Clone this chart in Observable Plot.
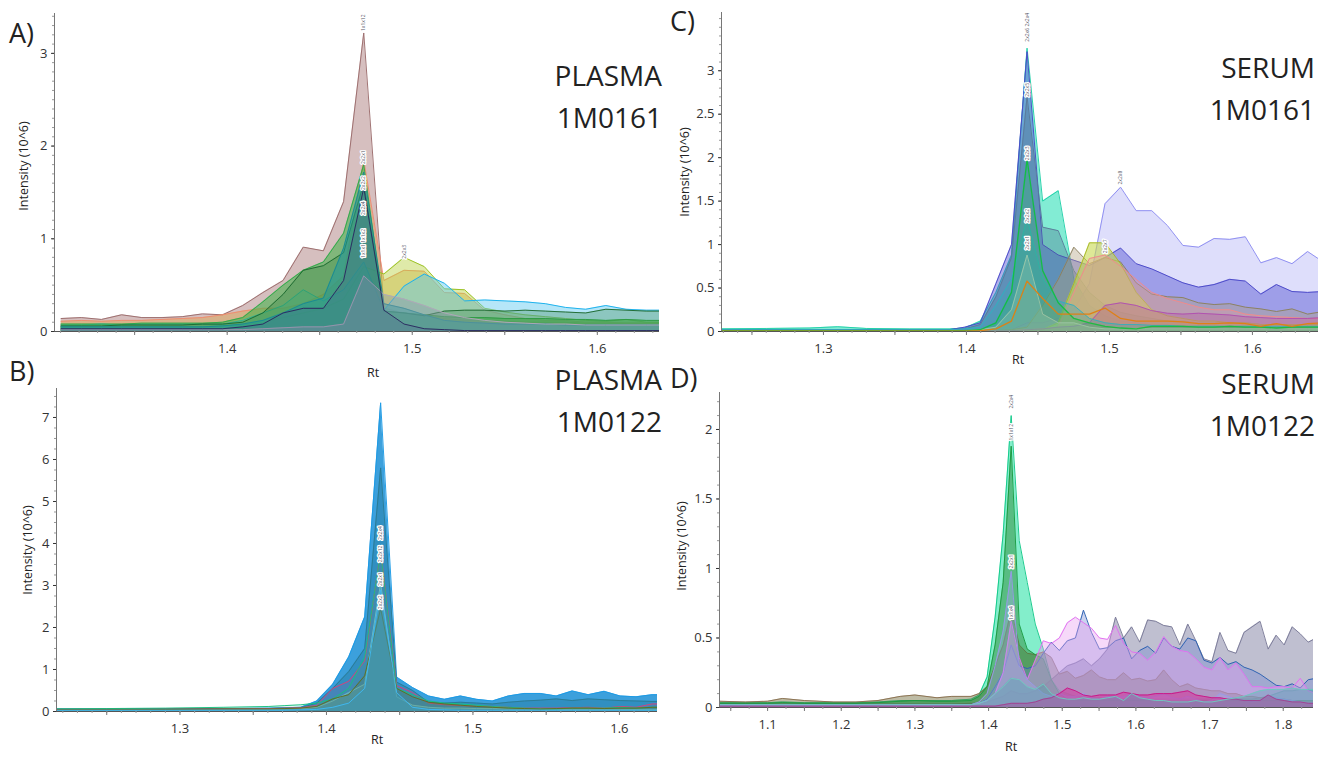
<!DOCTYPE html>
<html><head><meta charset="utf-8">
<script src="https://cdn.jsdelivr.net/npm/d3@7"></script>
<script src="https://cdn.jsdelivr.net/npm/@observablehq/plot@0.6"></script>
<style>
body{margin:0;background:#fff;}
#wrap{position:relative;width:1319px;height:757px;overflow:hidden;font-family:"Open Sans",sans-serif;background:#fff;}
.pnl{position:absolute;}
.letter{position:absolute;font-size:27px;line-height:30px;color:#222;}
.name{position:absolute;font-size:28px;line-height:42px;color:#222;text-align:right;}
.ylab{position:absolute;font-size:12.5px;color:#222;transform:translate(-50%,-50%) rotate(-90deg);white-space:nowrap;}
.xlab{position:absolute;font-size:12.5px;line-height:14px;color:#222;transform:translate(-50%,-50%);}
</style></head>
<body><div id="wrap"></div>
<script>
// ---------- Panel A : PLASMA 1M0161 ----------
const rtA = [1.3103,1.3212,1.3321,1.3430,1.3539,1.3648,1.3757,1.3866,1.3975,1.4084,
  1.4193,1.4302,1.4411,1.4520,1.4629,1.4738,1.4847,1.4956,1.5065,1.5174,
  1.5283,1.5392,1.5501,1.5610,1.5719,1.5828,1.5937,1.6046,1.6155,1.6264,1.6373];
const A_mauve = [0.14,0.15,0.13,0.18,0.15,0.15,0.16,0.19,0.18,0.28, 0.42,0.55,0.91,0.87,1.40,3.22,0.25,0.20,0.17,0.14, 0.12,0.12,0.11,0.10,0.10,0.10,0.09,0.09,0.09,0.09,0.09];
const A_salmon = [0.11,0.12,0.11,0.12,0.12,0.13,0.14,0.15,0.18,0.22, 0.25,0.25,0.30,0.40,0.60,1.85,0.55,0.66,0.65,0.42, 0.41,0.23,0.18,0.14,0.12,0.12,0.10,0.10,0.09,0.09,0.09];
const A_ygreen = [0.05,0.05,0.05,0.05,0.05,0.05,0.05,0.05,0.06,0.07, 0.10,0.15,0.20,0.25,0.35,0.70,0.62,0.80,0.70,0.46, 0.45,0.25,0.21,0.18,0.16,0.14,0.12,0.11,0.13,0.10,0.10];
const A_cyan = [0.07,0.07,0.08,0.07,0.08,0.08,0.08,0.08,0.08,0.12, 0.20,0.28,0.45,0.33,0.45,0.75,0.23,0.49,0.62,0.52, 0.33,0.34,0.33,0.32,0.30,0.26,0.24,0.28,0.24,0.23,0.23];
const A_green = [0.08,0.08,0.08,0.08,0.09,0.09,0.09,0.09,0.10,0.15, 0.32,0.50,0.66,0.75,1.06,1.80,0.22,0.20,0.18,0.16, 0.15,0.15,0.14,0.14,0.14,0.13,0.13,0.12,0.13,0.12,0.12];
const A_dkgreen = [0.06,0.06,0.06,0.07,0.07,0.07,0.07,0.08,0.08,0.10, 0.20,0.40,0.66,0.71,0.85,1.60,0.22,0.20,0.17,0.22, 0.23,0.23,0.22,0.23,0.22,0.21,0.20,0.24,0.23,0.22,0.22];
const A_teal = [0.05,0.05,0.05,0.05,0.05,0.05,0.05,0.05,0.06,0.08, 0.12,0.20,0.30,0.36,0.90,1.72,0.30,0.25,0.18,0.12, 0.10,0.09,0.08,0.08,0.08,0.07,0.07,0.07,0.07,0.07,0.07];
const A_gray = [0.02,0.02,0.02,0.02,0.02,0.02,0.02,0.02,0.02,0.02, 0.03,0.04,0.05,0.05,0.08,0.60,0.40,0.35,0.28,0.20, 0.15,0.12,0.10,0.09,0.08,0.08,0.07,0.07,0.07,0.07,0.07];
const A_navy = [0.03,0.03,0.03,0.03,0.03,0.03,0.03,0.03,0.03,0.05, 0.08,0.20,0.25,0.25,0.55,1.55,0.23,0.08,0.03,0.02, 0.01,0.01,0.01,0.01,0.01,0.01,0.01,0.01,0.01,0.01,0.01];
const xTicksA = [1.4, 1.5, 1.6];
const yTicksA = [0, 1, 2, 3];
const tagsA = [
  {rt:1.4738, v:3.33, t:"1x1x12"}, {rt:1.4738, v:1.88, t:"2x2x1"}, {rt:1.4738, v:1.60, t:"2x2x2"},
  {rt:1.4738, v:1.33, t:"2x2x4"}, {rt:1.4738, v:0.95, t:"1x1x1 1x1x2"}, {rt:1.4956, v:0.86, t:"2x2x3"}];

// ---------- Panel B : PLASMA 1M0122 ----------
const rtB = [1.2081,1.25,1.29,1.33,1.3607,1.3716,1.3825,1.3934,1.4043,1.4152,
  1.4261,1.4370,1.4479,1.4588,1.4697,1.4806,1.4915,1.5024,1.5133,1.5242,
  1.5351,1.5460,1.5569,1.5678,1.5787,1.5896,1.6005,1.6114,1.6223,1.6332];
const B_blue = [0.06,0.06,0.07,0.07,0.08,0.09,0.10,0.25,0.65,1.30, 2.25,7.35,0.82,0.57,0.37,0.29,0.37,0.29,0.25,0.37, 0.43,0.43,0.37,0.49,0.40,0.48,0.37,0.35,0.40,0.40];
const B_dkteal = [0.05,0.05,0.06,0.06,0.07,0.08,0.09,0.20,0.55,0.95, 1.50,5.80,0.70,0.50,0.22,0.20,0.22,0.20,0.18,0.22, 0.25,0.27,0.30,0.26,0.30,0.28,0.26,0.25,0.24,0.24];
const B_ltteal = [0.04,0.04,0.04,0.05,0.05,0.06,0.07,0.10,0.25,0.45, 0.65,3.05,0.35,0.15,0.10,0.08,0.08,0.07,0.07,0.06, 0.06,0.06,0.05,0.05,0.05,0.05,0.05,0.05,0.05,0.05];
const B_pink = [0.05,0.05,0.06,0.06,0.07,0.08,0.09,0.15,0.55,0.72, 1.20,3.85,0.62,0.45,0.20,0.16,0.14,0.13,0.12,0.10, 0.08,0.08,0.08,0.09,0.10,0.08,0.12,0.10,0.18,0.18];
const B_green = [0.06,0.07,0.08,0.10,0.12,0.14,0.16,0.20,0.30,0.55, 1.30,3.80,0.55,0.40,0.25,0.20,0.18,0.15,0.12,0.10, 0.08,0.06,0.06,0.08,0.08,0.08,0.10,0.08,0.10,0.10];
const B_olive = [0.05,0.05,0.05,0.06,0.06,0.07,0.08,0.12,0.30,0.40, 0.85,2.45,0.55,0.35,0.22,0.18,0.15,0.12,0.10,0.08, 0.07,0.06,0.07,0.08,0.08,0.07,0.08,0.08,0.10,0.10];
const B_cyan = [0.03,0.03,0.03,0.03,0.03,0.03,0.04,0.05,0.10,0.20, 0.55,2.90,0.45,0.10,0.05,0.04,0.03,0.03,0.03,0.03, 0.03,0.03,0.03,0.03,0.03,0.03,0.03,0.03,0.03,0.03];
const xTicksB = [1.3, 1.4, 1.5, 1.6];
const yTicksB = [0, 1, 2, 3, 4, 5, 6, 7];
const tagsB = [{rt:1.437, v:4.25, t:"2x2x4"}, {rt:1.437, v:3.75, t:"2x2x12"}, {rt:1.437, v:3.15, t:"2x2x1"}, {rt:1.437, v:2.6, t:"2x2x2"}];

// ---------- Panel C : SERUM 1M0161 ----------
const rtC = [1.2244,1.26,1.29,1.31,1.33,1.36,
  1.3879,1.3988,1.4097,1.4206,1.4315,1.4424,1.4533,1.4642,1.4751,1.4860,
  1.4969,1.5078,1.5187,1.5296,1.5405,1.5514,1.5623,1.5732,1.5841,1.5950,
  1.6059,1.6168,1.6277,1.6386,1.6495];
const C_turq = [0.03,0.035,0.04,0.055,0.035,0.03, 0.03,0.04,0.12,0.45,0.88,3.26,1.50,1.62,0.60,0.30, 0.18,0.12,0.10,0.08,0.08,0.07,0.07,0.06,0.06,0.06, 0.05,0.05,0.05,0.05,0.05];
const C_lav = [0.01,0.01,0.01,0.01,0.01,0.01, 0.01,0.01,0.01,0.01,0.02,0.10,0.10,0.15,0.25,0.55, 1.47,1.66,1.39,1.39,1.22,0.99,0.97,1.07,1.06,1.09, 0.79,0.85,0.78,0.92,0.80];
const C_violet = [0.02,0.02,0.02,0.02,0.02,0.02, 0.02,0.05,0.10,0.55,1.00,3.22,1.00,0.88,0.82,0.76, 0.85,0.96,0.78,0.72,0.64,0.56,0.51,0.54,0.60,0.58, 0.43,0.54,0.46,0.45,0.46];
const C_slate = [0.02,0.02,0.02,0.02,0.02,0.02, 0.02,0.03,0.08,0.40,0.85,2.70,1.20,1.16,0.70,0.45, 0.30,0.22,0.18,0.15,0.12,0.12,0.10,0.10,0.10,0.10, 0.08,0.08,0.08,0.08,0.08];
const C_olgray = [0.01,0.01,0.01,0.01,0.01,0.01, 0.01,0.01,0.01,0.01,0.02,0.05,0.30,0.60,0.97,0.78, 0.85,0.80,0.56,0.43,0.40,0.39,0.33,0.31,0.32,0.28, 0.26,0.23,0.26,0.20,0.23];
const C_yellow = [0.01,0.01,0.01,0.01,0.01,0.01, 0.01,0.01,0.01,0.01,0.01,0.02,0.02,0.10,0.55,1.02, 1.02,0.78,0.45,0.25,0.18,0.15,0.12,0.12,0.10,0.10, 0.08,0.08,0.08,0.08,0.08];
const C_salmon = [0.01,0.01,0.01,0.01,0.01,0.01, 0.01,0.01,0.01,0.01,0.01,0.02,0.03,0.05,0.45,0.84, 0.88,0.75,0.60,0.45,0.38,0.33,0.28,0.25,0.25,0.20, 0.18,0.17,0.16,0.15,0.15];
const C_magenta = [0.01,0.01,0.01,0.01,0.01,0.01, 0.01,0.01,0.01,0.01,0.01,0.02,0.03,0.05,0.06,0.10, 0.30,0.33,0.30,0.24,0.21,0.20,0.21,0.20,0.19,0.17, 0.16,0.15,0.15,0.15,0.16];
const C_teal = [0.02,0.02,0.02,0.02,0.02,0.02, 0.02,0.03,0.05,0.30,0.60,1.30,0.60,0.35,0.30,0.15, 0.10,0.08,0.08,0.07,0.07,0.06,0.06,0.06,0.06,0.06, 0.06,0.06,0.06,0.06,0.06];
const C_lgray = [0.01,0.01,0.01,0.01,0.01,0.01, 0.01,0.01,0.02,0.05,0.25,0.88,0.20,0.10,0.10,0.05, 0.03,0.03,0.03,0.03,0.03,0.03,0.03,0.03,0.03,0.03, 0.03,0.03,0.03,0.03,0.03];
const C_green = [0.01,0.01,0.01,0.01,0.01,0.01, 0.01,0.01,0.02,0.10,0.45,1.98,0.70,0.33,0.15,0.10, 0.06,0.04,0.03,0.06,0.06,0.06,0.05,0.05,0.06,0.05, 0.05,0.04,0.05,0.05,0.05];
const C_orange = [0.005,0.005,0.005,0.005,0.005,0.005, 0.005,0.005,0.01,0.03,0.12,0.58,0.38,0.20,0.20,0.20, 0.27,0.15,0.12,0.12,0.12,0.11,0.09,0.09,0.10,0.09, 0.06,0.09,0.06,0.09,0.10];
const xTicksC = [1.3, 1.4, 1.5, 1.6];
const yTicksC = [0, 0.5, 1, 1.5, 2, 2.5, 3];
const tagsC = [{rt:1.4424, v:3.5, t:"2x2x6 2x2x4"}, {rt:1.4424, v:2.78, t:"2x2x5"}, {rt:1.4424, v:2.05, t:"2x2x3"},
  {rt:1.4424, v:1.33, t:"2x2x2"}, {rt:1.4424, v:1.02, t:"2x2x1"}, {rt:1.5078, v:1.77, t:"2x2x8"}, {rt:1.4969, v:0.98, t:"2x2x7"}];

// ---------- Panel D : SERUM 1M0122 ----------
const rtD = [1.0347,1.07,1.10,1.12,1.15,1.19,1.22,1.25,1.28,1.30,1.33,1.35,
  1.3762,1.3871,1.3980,1.4089,1.4198,1.4307,1.4416,1.4525,1.4634,1.4743,
  1.4852,1.4961,1.5070,1.5179,1.5288,1.5397,1.5506,1.5615,1.5724,1.5833,
  1.5942,1.6051,1.6160,1.6269,1.6378,1.6487,1.6596,1.6705,1.6814,1.6923,
  1.7032,1.7141,1.7250,1.7359,1.7468,1.7577,1.7686,1.7795,1.7904,1.8013,
  1.8122,1.8231,1.8340,1.8449];
const D_green = [0.035,0.035,0.035,0.04,0.035,0.035,0.035,0.04,0.05,0.05,0.05,0.05,
  0.06,0.09,0.22,0.65,1.25,2.10,1.20,0.90,0.60,0.42,
  0.20,0.12,0.10,0.08,0.08,0.07,0.07,0.06,0.06,0.06,
  0.06,0.06,0.06,0.06,0.06,0.06,0.06,0.06,0.06,0.06,
  0.06,0.06,0.06,0.06,0.06,0.06,0.07,0.08,0.10,0.12,
  0.12,0.13,0.13,0.13];
const D_gray = [0.025,0.025,0.025,0.025,0.025,0.025,0.025,0.025,0.025,0.025,0.025,0.025,
  0.03,0.03,0.04,0.06,0.08,0.12,0.10,0.10,0.12,0.15,
  0.20,0.25,0.30,0.32,0.35,0.30,0.35,0.42,0.65,0.50,
  0.58,0.47,0.63,0.62,0.59,0.58,0.45,0.60,0.48,0.35,
  0.33,0.54,0.41,0.39,0.54,0.58,0.62,0.42,0.52,0.45,
  0.58,0.53,0.47,0.50];
const D_olive = [0.045,0.04,0.045,0.065,0.05,0.04,0.04,0.05,0.08,0.09,0.07,0.08,
  0.08,0.10,0.15,0.30,0.45,0.70,0.45,0.39,0.38,0.40,
  0.36,0.24,0.26,0.21,0.23,0.27,0.22,0.20,0.20,0.25,
  0.20,0.21,0.19,0.20,0.27,0.20,0.15,0.17,0.14,0.13,
  0.12,0.12,0.10,0.10,0.08,0.08,0.07,0.07,0.06,0.06,
  0.05,0.05,0.05,0.05];
const D_dkgreen = [0.03,0.03,0.03,0.035,0.03,0.03,0.03,0.035,0.045,0.05,0.045,0.045,
  0.05,0.08,0.15,0.45,0.90,1.88,0.60,0.42,0.38,0.35,
  0.20,0.10,0.06,0.05,0.05,0.05,0.05,0.05,0.05,0.05,
  0.05,0.05,0.05,0.05,0.05,0.05,0.05,0.05,0.05,0.05,
  0.05,0.05,0.05,0.05,0.05,0.05,0.05,0.05,0.05,0.05,
  0.05,0.05,0.05,0.05];
const D_blue = [0.02,0.02,0.02,0.02,0.02,0.02,0.02,0.02,0.02,0.02,0.02,0.02,
  0.02,0.03,0.06,0.15,0.25,0.45,0.30,0.28,0.30,0.39,
  0.47,0.41,0.48,0.50,0.70,0.54,0.42,0.43,0.48,0.50,
  0.35,0.41,0.44,0.39,0.50,0.44,0.42,0.50,0.48,0.34,
  0.32,0.36,0.31,0.33,0.29,0.27,0.24,0.20,0.16,0.15,
  0.17,0.14,0.20,0.21];
const D_pink = [0.02,0.02,0.02,0.02,0.02,0.02,0.02,0.02,0.02,0.02,0.02,0.02,
  0.02,0.03,0.05,0.10,0.25,0.62,0.36,0.20,0.34,0.48,
  0.46,0.50,0.61,0.65,0.61,0.57,0.50,0.49,0.59,0.46,
  0.40,0.39,0.34,0.40,0.51,0.44,0.41,0.40,0.35,0.29,
  0.27,0.36,0.27,0.32,0.24,0.15,0.15,0.14,0.15,0.15,
  0.14,0.21,0.12,0.10];
const D_lav = [0.02,0.02,0.02,0.02,0.02,0.02,0.02,0.02,0.02,0.02,0.02,0.02,
  0.02,0.04,0.10,0.30,0.55,0.98,0.30,0.20,0.15,0.10,
  0.08,0.10,0.08,0.08,0.10,0.07,0.06,0.08,0.07,0.08,
  0.10,0.08,0.07,0.08,0.10,0.07,0.06,0.08,0.06,0.04,
  0.05,0.10,0.08,0.06,0.05,0.04,0.05,0.08,0.07,0.06,
  0.05,0.04,0.03,0.03];
const D_magenta = [0.01,0.01,0.01,0.01,0.01,0.01,0.01,0.01,0.01,0.01,0.01,0.01,
  0.01,0.01,0.01,0.01,0.02,0.03,0.03,0.03,0.04,0.06,
  0.07,0.10,0.14,0.12,0.09,0.08,0.09,0.09,0.09,0.11,
  0.10,0.09,0.09,0.10,0.10,0.10,0.11,0.12,0.09,0.08,
  0.07,0.07,0.06,0.06,0.05,0.05,0.05,0.09,0.06,0.05,
  0.04,0.04,0.03,0.03];
const D_teal = [0.02,0.02,0.02,0.02,0.02,0.02,0.02,0.02,0.02,0.02,0.02,0.02,
  0.02,0.03,0.05,0.10,0.15,0.21,0.20,0.15,0.13,0.17,
  0.10,0.07,0.06,0.06,0.07,0.06,0.06,0.07,0.08,0.05,
  0.10,0.07,0.06,0.05,0.05,0.04,0.04,0.04,0.05,0.04,
  0.04,0.05,0.06,0.07,0.08,0.10,0.12,0.13,0.13,0.13,
  0.14,0.13,0.13,0.13];
const xTicksD = [1.1, 1.2, 1.3, 1.4, 1.5, 1.6, 1.7, 1.8];
const yTicksD = [0, 0.5, 1, 1.5, 2];
const tagsD = [{rt:1.4307, v:2.2, t:"2x2x4"}, {rt:1.4307, v:1.98, t:"1x1x12"}, {rt:1.4307, v:1.05, t:"2x2x1"}, {rt:1.4307, v:0.68, t:"1x1x4"}];

// ---------- drawing ----------
const stepTicks = (a, b, s) => d3.range(Math.ceil(a / s - 1e-9), Math.floor(b / s + 1e-9) + 1).map(i => +(i * s).toFixed(4));
const fmt = d3.format("~g");

function panel(o) {
  const marks = [];
  for (const s of o.series) {
    const rows = o.rt.map((x, i) => ({x, v: s.v[i]}));
    marks.push(Plot.areaY(rows, {x: "x", y: "v", fill: s.fill, fillOpacity: s.fo, clip: true}));
    marks.push(Plot.lineY(rows, {x: "x", y: "v", stroke: s.stroke, strokeWidth: s.sw || 1, strokeOpacity: 0.95, clip: true}));
  }
  marks.push(Plot.text(o.tags, {x: "rt", y: "v", text: "t", rotate: -90, fontSize: 5, fill: "#556", stroke: "white", strokeWidth: 2.5, clip: true}));
  marks.push(Plot.ruleX([o.xDomain[0]], {stroke: "#777", strokeWidth: 1}));
  marks.push(Plot.ruleY([0], {stroke: "#555", strokeWidth: 1}));
  marks.push(Plot.axisX(stepTicks(o.xDomain[0], o.xDomain[1], o.xMinor), {tickSize: 2, tickFormat: () => "", label: null, color: "#999"}));
  marks.push(Plot.axisX(stepTicks(o.xDomain[0], o.xDomain[1], 0.05), {tickSize: 4, tickFormat: () => "", label: null, color: "#777"}));
  marks.push(Plot.axisX(o.xTicks, {tickSize: 0, tickPadding: 12, tickFormat: d => d.toFixed(1), label: null, color: "#333", fontSize: 13}));
  marks.push(Plot.axisY(stepTicks(0, o.yDomain[1], o.yMinor), {tickSize: 2, tickFormat: () => "", label: null, color: "#999"}));
  marks.push(Plot.axisY(o.yTicks, {tickSize: 3, tickPadding: 4, tickFormat: fmt, label: null, color: "#333", fontSize: 13}));
  const svg = Plot.plot({
    width: o.w, height: o.h,
    marginLeft: o.m[0], marginRight: o.m[1], marginTop: o.m[2], marginBottom: o.m[3],
    x: {domain: o.xDomain, label: null},
    y: {domain: o.yDomain, label: null},
    style: {fontFamily: "Open Sans", fontSize: "13px", background: "transparent", overflow: "visible"},
    marks
  });
  svg.classList.add("pnl");
  svg.style.left = o.left + "px";
  svg.style.top = o.top + "px";
  document.getElementById("wrap").appendChild(svg);
}

panel({left: 0, top: 0, w: 660, h: 370, m: [54, 1, 13, 39], rt: rtA,
  xDomain: [1.3067, 1.6336], yDomain: [0, 3.43], xTicks: xTicksA, yTicks: yTicksA, xMinor: 0.01, yMinor: 0.1, tags: tagsA,
  series: [
    {v: A_mauve, fill: "#b58a8a", fo: 0.55, stroke: "#9b6b6b"},
    {v: A_salmon, fill: "#d9a24a", fo: 0.45, stroke: "#f08a70"},
    {v: A_ygreen, fill: "#b8d040", fo: 0.45, stroke: "#98c020"},
    {v: A_cyan, fill: "#5cc8f0", fo: 0.45, stroke: "#18b0ec"},
    {v: A_green, fill: "#3cb043", fo: 0.55, stroke: "#2ea84a"},
    {v: A_dkgreen, fill: "#2e7d3a", fo: 0.3, stroke: "#1e6a30"},
    {v: A_teal, fill: "#1f9aa0", fo: 0.55, stroke: "#1a8a90"},
    {v: A_gray, fill: "#8a9aa8", fo: 0.45, stroke: "#b0a8b8"},
    {v: A_navy, fill: "#4a5a8a", fo: 0.25, stroke: "#2a2a60"}
  ]});

panel({left: 0, top: 370, w: 660, h: 387, m: [56, 3, 18, 46], rt: rtB,
  xDomain: [1.2157, 1.626], yDomain: [0, 7.69], xTicks: xTicksB, yTicks: yTicksB, xMinor: 0.01, yMinor: 0.25, tags: tagsB,
  series: [
    {v: B_blue, fill: "#1a8fd6", fo: 0.85, stroke: "#1a9ae6"},
    {v: B_dkteal, fill: "#1a6a84", fo: 0.3, stroke: "#2a7a94"},
    {v: B_ltteal, fill: "#5ab8c8", fo: 0.4, stroke: "#70d0d8"},
    {v: B_pink, fill: "#d8407a", fo: 0.12, stroke: "#d8407a"},
    {v: B_green, fill: "#18c080", fo: 0.12, stroke: "#18c080"},
    {v: B_olive, fill: "#607020", fo: 0.18, stroke: "#607020"},
    {v: B_cyan, fill: "#3a98b8", fo: 0.5, stroke: "#40b8f0"}
  ]});

panel({left: 660, top: 0, w: 659, h: 370, m: [61, 1, 12, 39], rt: rtC,
  xDomain: [1.2287, 1.6462], yDomain: [0, 3.67], xTicks: xTicksC, yTicks: yTicksC, xMinor: 0.01, yMinor: 0.1, tags: tagsC,
  series: [
    {v: C_turq, fill: "#2ee0b8", fo: 0.6, stroke: "#20d0a8"},
    {v: C_lav, fill: "#c8c8f8", fo: 0.6, stroke: "#8c8cf0"},
    {v: C_violet, fill: "#5050d0", fo: 0.45, stroke: "#4a48c8"},
    {v: C_slate, fill: "#4a6a8a", fo: 0.35, stroke: "#5a7a9a"},
    {v: C_olgray, fill: "#b0a080", fo: 0.4, stroke: "#8a8060"},
    {v: C_yellow, fill: "#c8d850", fo: 0.6, stroke: "#a8b828"},
    {v: C_salmon, fill: "#e89aa0", fo: 0.35, stroke: "#f08a8a"},
    {v: C_magenta, fill: "#b050a0", fo: 0.3, stroke: "#b050b0"},
    {v: C_teal, fill: "#38a8b8", fo: 0.35, stroke: "#30b0c0"},
    {v: C_lgray, fill: "#c8d0d0", fo: 0.3, stroke: "#c0c8c8"},
    {v: C_green, fill: "#20c050", fo: 0.25, stroke: "#10c040", sw: 1.3},
    {v: C_orange, fill: "#e08010", fo: 0.05, stroke: "#e08010", sw: 1.3}
  ]});

panel({left: 660, top: 370, w: 659, h: 387, m: [59, 6, 22, 50], rt: rtD,
  xDomain: [1.0347, 1.8411], yDomain: [0, 2.266], xTicks: xTicksD, yTicks: yTicksD, xMinor: 0.025, yMinor: 0.1, tags: tagsD,
  series: [
    {v: D_green, fill: "#1de0a0", fo: 0.55, stroke: "#10c888"},
    {v: D_gray, fill: "#8a8aaa", fo: 0.55, stroke: "#7a7a98"},
    {v: D_olive, fill: "#6e6a38", fo: 0.45, stroke: "#8a7050"},
    {v: D_dkgreen, fill: "#2e8a3a", fo: 0.5, stroke: "#1a9a40"},
    {v: D_blue, fill: "#6a80d0", fo: 0.35, stroke: "#2a60b0"},
    {v: D_pink, fill: "#e8a0f0", fo: 0.4, stroke: "#e070f0"},
    {v: D_lav, fill: "#a8a8f0", fo: 0.35, stroke: "#9898e8"},
    {v: D_magenta, fill: "#d82898", fo: 0.5, stroke: "#c81888"},
    {v: D_teal, fill: "#40a8a8", fo: 0.3, stroke: "#70c8c0"}
  ]});

// ---------- text overlay ----------
const wrap = document.getElementById("wrap");
function addText(cls, html, style) {
  const d = document.createElement("div");
  d.className = cls; d.innerHTML = html;
  Object.assign(d.style, style);
  wrap.appendChild(d);
}
const panelLetters = ["A)", "B)", "C)", "D)"];
const sampleNames = [["PLASMA", "1M0161"], ["PLASMA", "1M0122"], ["SERUM", "1M0161"], ["SERUM", "1M0122"]];
addText("letter", panelLetters[0], {left: "9px", top: "18px"});
addText("letter", panelLetters[1], {left: "9px", top: "356px"});
addText("letter", panelLetters[2], {left: "670px", top: "6px"});
addText("letter", panelLetters[3], {left: "670px", top: "363px"});
addText("name", sampleNames[0].join("<br>"), {right: "657px", top: "54px"});
addText("name", sampleNames[1].join("<br>"), {right: "657px", top: "358px"});
addText("name", sampleNames[2].join("<br>"), {right: "4px", top: "46px"});
addText("name", sampleNames[3].join("<br>"), {right: "4px", top: "362px"});
const yTitle = "Intensity (10^6)", xTitle = "Rt";
addText("ylab", yTitle, {left: "23px", top: "166px"});
addText("ylab", yTitle, {left: "27px", top: "550px"});
addText("ylab", yTitle, {left: "684px", top: "172px"});
addText("ylab", yTitle, {left: "681px", top: "546px"});
addText("xlab", xTitle, {left: "373px", top: "373px"});
addText("xlab", xTitle, {left: "377px", top: "740px"});
addText("xlab", xTitle, {left: "1018px", top: "360px"});
addText("xlab", xTitle, {left: "1011px", top: "747px"});
</script>
</body></html>
